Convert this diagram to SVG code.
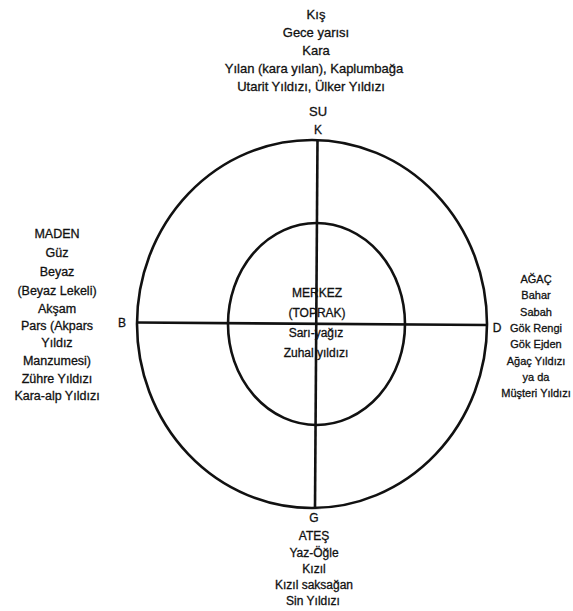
<svg xmlns="http://www.w3.org/2000/svg" width="573" height="611" viewBox="0 0 573 611">
<style>
text{font-family:"Liberation Sans",Arial,sans-serif;fill:#111;stroke:#111;stroke-width:0.3;text-anchor:middle}
.t{font-size:13px}
.l{font-size:12.5px}
.r{font-size:11px}
.c{font-size:12px}
.b{font-size:12px}
.k{font-size:12px}
.ln{fill:none;stroke:#111;stroke-width:2.6}
</style>
<rect width="573" height="611" fill="#fff"/>
<g id="outer-circle"><ellipse class="ln" cx="312" cy="324" rx="175" ry="184"/></g>
<g id="inner-circle"><ellipse class="ln" cx="316.5" cy="324" rx="88.5" ry="101"/></g>
<g id="connectors">
<line class="ln" x1="137" y1="322.5" x2="487" y2="325"/>
<line class="ln" x1="317.5" y1="140" x2="315" y2="508"/>
</g>
<g id="node-north">
<text class="t" x="316" y="19">Kış</text>
<text class="t" x="316" y="37">Gece yarısı</text>
<text class="t" x="316" y="55">Kara</text>
<text class="t" x="314" y="73">Yılan (kara yılan), Kaplumbağa</text>
<text class="t" x="311" y="91">Utarit Yıldızı, Ülker Yıldızı</text>
<text class="t" x="318" y="116">SU</text>
<text class="k" x="318" y="134">K</text>
</g>
<g id="node-west">
<text class="l" x="57" y="238">MADEN</text>
<text class="l" x="57" y="257">Güz</text>
<text class="l" x="57" y="276">Beyaz</text>
<text class="l" x="57" y="295">(Beyaz Lekeli)</text>
<text class="l" x="57" y="313">Akşam</text>
<text class="l" x="57" y="330">Pars (Akpars</text>
<text class="l" x="57" y="347">Yıldız</text>
<text class="l" x="57" y="365">Manzumesi)</text>
<text class="l" x="57" y="383">Zühre Yıldızı</text>
<text class="l" x="57" y="400">Kara-alp Yıldızı</text>
<text class="k" x="122" y="327">B</text>
</g>
<g id="node-east">
<text class="r" x="536" y="283">AĞAÇ</text>
<text class="r" x="536" y="299">Bahar</text>
<text class="r" x="536" y="316">Sabah</text>
<text class="r" x="536" y="332">Gök Rengi</text>
<text class="r" x="536" y="348">Gök Ejden</text>
<text class="r" x="536" y="365">Ağaç Yıldızı</text>
<text class="r" x="536" y="381">ya da</text>
<text class="r" x="536" y="397">Müşteri Yıldızı</text>
<text class="k" x="497" y="332">D</text>
</g>
<g id="node-center">
<text class="c" x="317" y="297">MERKEZ</text>
<text class="c" x="317" y="317">(TOPRAK)</text>
<text class="c" x="316" y="337">Sarı-yağız</text>
<text class="c" x="316" y="357">Zuhal yıldızı</text>
</g>
<g id="node-south">
<text class="k" x="314" y="522">G</text>
<text class="b" x="314" y="540">ATEŞ</text>
<text class="b" x="314" y="557">Yaz-Öğle</text>
<text class="b" x="314" y="573">Kızıl</text>
<text class="b" x="314" y="589">Kızıl saksağan</text>
<text class="b" x="313" y="605">Sin Yıldızı</text>
</g>
</svg>
